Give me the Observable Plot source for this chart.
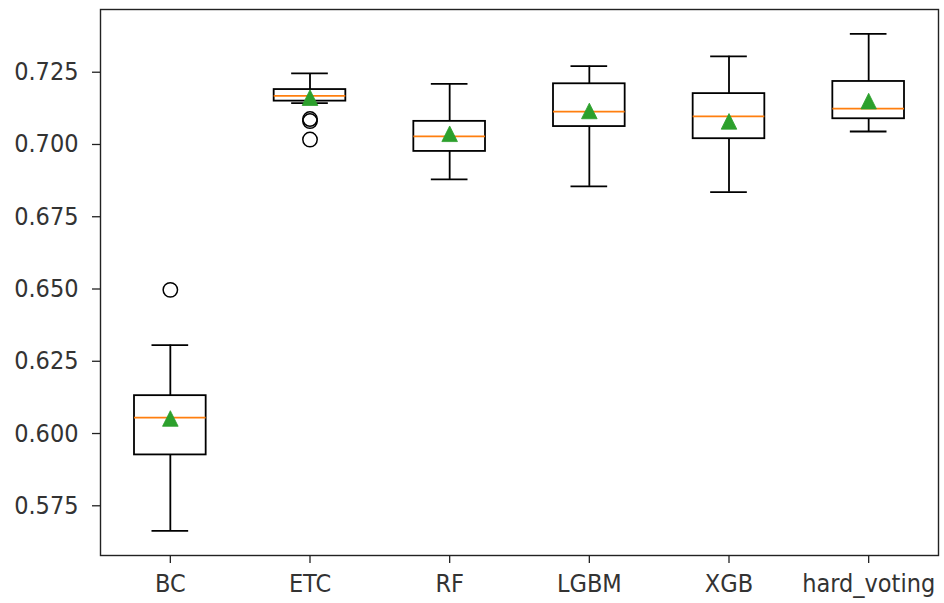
<!DOCTYPE html>
<html>
<head>
<meta charset="utf-8">
<script src="https://cdn.jsdelivr.net/npm/d3@7"></script>
<script src="https://cdn.jsdelivr.net/npm/@observablehq/plot@0.6"></script>
<style>
  html, body { margin: 0; padding: 0; background: #fff; }
  #chart svg { display: block; }
</style>
</head>
<body>
<div id="chart"></div>
<script>
const models = ["BC", "ETC", "RF", "LGBM", "XGB", "hard_voting"];
const whiskerLow  = [0.5663, 0.7143, 0.6879, 0.6855, 0.6835, 0.7045];
const q1          = [0.5926, 0.7150, 0.6976, 0.7062, 0.7020, 0.7089];
const medians     = [0.6055, 0.7168, 0.7028, 0.7114, 0.7097, 0.7124];
const q3          = [0.6131, 0.7190, 0.7080, 0.7210, 0.7176, 0.7218];
const whiskerHigh = [0.6306, 0.7246, 0.7210, 0.7271, 0.7305, 0.7383];
const means       = [0.6052, 0.7162, 0.7037, 0.7116, 0.7080, 0.7150];
const outlierModel = ["BC", "ETC", "ETC", "ETC"];
const outlierValue = [0.6497, 0.7088, 0.7081, 0.7017];
const yTicks = [0.575, 0.600, 0.625, 0.650, 0.675, 0.700, 0.725];
const yDomain = [0.5578, 0.7467];

const stats = models.map((m, i) => ({
  model: m, lo: whiskerLow[i], q1: q1[i], med: medians[i],
  q3: q3[i], hi: whiskerHigh[i], mean: means[i]
}));
const outliers = outlierModel.map((m, i) => ({model: m, value: outlierValue[i]}));

// matplotlib-like "^" marker: square bounding box centred on the value
const triUp = {
  draw(context, size) {
    const s = Math.sqrt(size / Math.PI);
    context.moveTo(0, -s);
    context.lineTo(s, s);
    context.lineTo(-s, s);
    context.closePath();
  }
};

const boxInset = 34;
const capInset = 51.5;
const lw = 1.8;

const chart = Plot.plot({
  width: 944,
  height: 603,
  marginLeft: 100,
  marginRight: 6,
  marginTop: 9,
  marginBottom: 48,
  style: {fontFamily: "'DejaVu Sans Condensed', 'DejaVu Sans', sans-serif", fontSize: "25px", color: "#333", background: "#fff"},
  x: {type: "band", domain: models, padding: 0, round: false, label: null},
  y: {domain: yDomain, label: null},
  marks: [
    Plot.axisY({ticks: yTicks, tickFormat: d3.format(".3f"), tickSize: 8, tickPadding: 14, stroke: "#222", strokeWidth: 1.3, label: null}),
    Plot.axisX({tickSize: 8, tickPadding: 11, stroke: "#222", strokeWidth: 1.3, label: null}),
    Plot.ruleX(stats, {x: "model", y1: "lo", y2: "q1", stroke: "black", strokeWidth: lw}),
    Plot.ruleX(stats, {x: "model", y1: "q3", y2: "hi", stroke: "black", strokeWidth: lw}),
    Plot.tickY(stats, {x: "model", y: "lo", stroke: "black", strokeWidth: lw, inset: capInset}),
    Plot.tickY(stats, {x: "model", y: "hi", stroke: "black", strokeWidth: lw, inset: capInset}),
    Plot.barY(stats, {x: "model", y1: "q1", y2: "q3", fill: "none", stroke: "black", strokeWidth: lw, insetLeft: boxInset, insetRight: boxInset}),
    Plot.tickY(stats, {x: "model", y: "med", stroke: "#ff7f0e", strokeWidth: lw, inset: boxInset}),
    Plot.dot(outliers, {x: "model", y: "value", r: 7.2, fill: "none", stroke: "black", strokeWidth: 1.5}),
    Plot.dot(stats, {x: "model", y: "mean", symbol: triUp, r: 7.8, fill: "#2ca02c", stroke: "#2ca02c", strokeWidth: 0.8}),
    Plot.frame({stroke: "#222", strokeWidth: 1.4})
  ]
});
document.getElementById("chart").append(chart);
</script>
</body>
</html>
